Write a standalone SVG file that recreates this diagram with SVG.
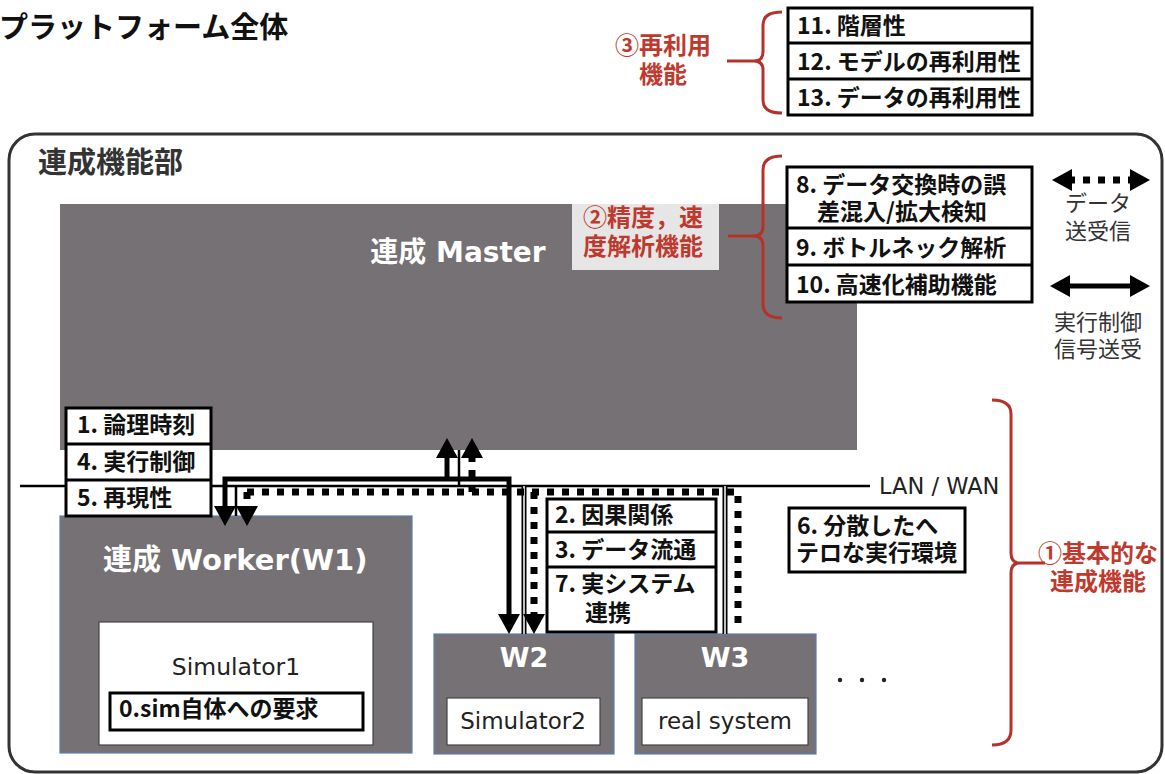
<svg xmlns="http://www.w3.org/2000/svg" width="1165" height="774" viewBox="0 0 1165 774">
<style>
.jp{font-family:"Noto Sans CJK JP","Noto Sans",sans-serif;}
.b{font-weight:bold;}
.box{fill:#fff;stroke:#000;stroke-width:3;}
.div{stroke:#000;stroke-width:3;}
.lbl{font-family:"Noto Sans CJK JP",sans-serif;font-weight:bold;font-size:23px;fill:#111;}
.red{font-family:"Noto Sans CJK JP",sans-serif;font-weight:bold;font-size:24px;fill:#bf3a2e;}
.brace{fill:none;stroke:#b5322b;stroke-width:3;}
.node{fill:#767174;stroke:#5b7db8;stroke-width:1.2;}
.wt{font-family:"DejaVu Sans","Noto Sans CJK JP",sans-serif;font-weight:bold;fill:#fff;}
.lt{font-family:"DejaVu Sans","Noto Sans CJK JP",sans-serif;fill:#222;}
.leg{font-family:"Noto Sans CJK JP",sans-serif;font-size:22px;fill:#333;}
.solid{fill:none;stroke:#000;stroke-width:5;}
.dot{fill:none;stroke:#000;stroke-width:7;stroke-dasharray:7 8;}
.lan{fill:none;stroke:#000;stroke-width:2.5;}
</style>
<defs>
<marker id="ah" markerUnits="userSpaceOnUse" viewBox="0 0 20 22" markerWidth="20" markerHeight="22" refX="6" refY="11" orient="auto-start-reverse">
<path d="M0,0 L20,11 L0,22 z" fill="#000"/>
</marker>
</defs>
<rect width="1165" height="774" fill="#fff"/>

<g id="title">
<text x="-1" y="38" class="jp b" font-size="29" fill="#111">プラットフォーム全体</text>
</g>

<g id="coupling-part">
<rect x="9" y="134" width="1153" height="638" rx="26" fill="none" stroke="#333" stroke-width="3"/>
<text x="38" y="173" class="jp b" font-size="29" fill="#333">連成機能部</text>
</g>

<g id="master">
<rect x="60" y="204" width="797" height="246" fill="#767174"/>
<text x="458" y="262" class="wt" font-size="28" text-anchor="middle">連成 Master</text>
</g>

<g id="reuse-group">
<path class="brace" d="M782 12 Q763 12 763 25 L763 52 Q763 61 754 61 Q763 61 763 70 L763 100 Q763 113 782 113 M727 61 L756 61"/>
<text x="663" y="54" class="red" text-anchor="middle">③再利用</text>
<text x="663" y="83" class="red" text-anchor="middle">機能</text>
<rect class="box" x="788" y="8" width="244" height="107"/>
<line class="div" x1="788" y1="43" x2="1032" y2="43"/>
<line class="div" x1="788" y1="79" x2="1032" y2="79"/>
<text x="797" y="34" class="lbl">11. 階層性</text>
<text x="797" y="70" class="lbl">12. モデルの再利用性</text>
<text x="797" y="106" class="lbl">13. データの再利用性</text>
</g>

<g id="accuracy-group">
<rect x="572" y="204" width="147" height="66" fill="#e6e6e6"/>
<text x="583" y="226" class="red">②精度，速</text>
<text x="583" y="255" class="red">度解析機能</text>
<path class="brace" d="M782 156 Q763 156 763 170 L763 226 Q763 236 754 236 Q763 236 763 246 L763 304 Q763 318 782 318 M728 236 L756 236"/>
<rect class="box" x="787" y="167" width="245" height="135"/>
<line class="div" x1="787" y1="228" x2="1032" y2="228"/>
<line class="div" x1="787" y1="265" x2="1032" y2="265"/>
<text x="796" y="193" class="lbl">8. データ交換時の誤</text>
<text x="817" y="220" class="lbl">差混入/拡大検知</text>
<text x="796" y="256" class="lbl">9. ボトルネック解析</text>
<text x="796" y="293" class="lbl">10. 高速化補助機能</text>
</g>

<g id="legend">
<path class="dot" d="M1068 180 L1132 180" stroke-dasharray="8 6"/>
<path d="M1066 180 L1068 180" fill="none" stroke="#000" stroke-width="5" marker-start="url(#ah)"/>
<path d="M1134 180 L1136 180" fill="none" stroke="#000" stroke-width="5" marker-end="url(#ah)"/>
<text x="1098" y="211" class="leg" text-anchor="middle">データ</text>
<text x="1098" y="239" class="leg" text-anchor="middle">送受信</text>
<path class="solid" d="M1064 286 L1136 286" marker-start="url(#ah)" marker-end="url(#ah)"/>
<text x="1098" y="330" class="leg" text-anchor="middle">実行制御</text>
<text x="1098" y="357" class="leg" text-anchor="middle">信号送受</text>
</g>

<g id="worker1">
<rect class="node" x="60" y="516" width="352" height="237"/>
<text x="103" y="570" class="wt" font-size="29">連成 Worker(W1)</text>
<rect x="99" y="622" width="274" height="123" fill="#fff" stroke="#444" stroke-width="1.2"/>
<text x="236" y="675" class="lt" font-size="23.5" text-anchor="middle">Simulator1</text>
<rect class="box" x="110" y="693" width="253" height="37"/>
<text x="119" y="717" class="lbl">0.sim自体への要求</text>
</g>

<g id="w2">
<rect class="node" x="434" y="634" width="180" height="120"/>
<text x="524" y="667" class="wt" font-size="27" text-anchor="middle">W2</text>
<rect x="447" y="698" width="153" height="47" fill="#fff" stroke="#444" stroke-width="1.2"/>
<text x="523" y="729" class="lt" font-size="23" text-anchor="middle">Simulator2</text>
</g>

<g id="w3">
<rect class="node" x="635" y="634" width="181" height="120"/>
<text x="725" y="667" class="wt" font-size="27" text-anchor="middle">W3</text>
<rect x="642" y="698" width="166" height="47" fill="#fff" stroke="#444" stroke-width="1.2"/>
<text x="725" y="729" class="lt" font-size="23" text-anchor="middle">real system</text>
</g>

<g id="more-workers">
<circle cx="840" cy="680" r="2.2" fill="#222"/>
<circle cx="862" cy="680" r="2.2" fill="#222"/>
<circle cx="884" cy="680" r="2.2" fill="#222"/>
</g>

<g id="connectors">
<path class="lan" d="M20 486 L870 486 M459 450 L459 486 M236 486 L236 516"/>
<path d="M524 486 L524 634 M725 486 L725 634" fill="none" stroke="#000" stroke-width="5"/>
<path d="M524 486 L524 634 M725 486 L725 634" fill="none" stroke="#fff" stroke-width="1.5"/>
<path class="solid" d="M447 479 L447 452" marker-end="url(#ah)"/>
<path class="solid" d="M225 512 L225 479 L509 479 L509 620" marker-start="url(#ah)" marker-end="url(#ah)"/>
<path class="dot" d="M247 492 L738 492 L738 630"/>
<path class="dot" d="M472 492 L472 458"/>
<path class="solid" d="M472 455 L472 452" marker-end="url(#ah)"/>
<path class="dot" d="M247 492 L247 508"/>
<path class="solid" d="M247 510 L247 512" marker-end="url(#ah)"/>
<path class="dot" d="M534 492 L534 615"/>
<path class="solid" d="M534 617 L534 620" marker-end="url(#ah)"/>
<text x="879" y="494" class="lt" font-size="22.5">LAN / WAN</text>
</g>

<g id="basic-group">
<rect class="box" x="66" y="408" width="145" height="108"/>
<line class="div" x1="66" y1="444" x2="211" y2="444"/>
<line class="div" x1="66" y1="480" x2="211" y2="480"/>
<text x="77" y="433" class="lbl">1. 論理時刻</text>
<text x="77" y="470" class="lbl">4. 実行制御</text>
<text x="77" y="506" class="lbl">5. 再現性</text>
<rect class="box" x="547" y="499" width="169" height="133"/>
<line class="div" x1="547" y1="532" x2="716" y2="532"/>
<line class="div" x1="547" y1="567" x2="716" y2="567"/>
<text x="555" y="523" class="lbl">2. 因果関係</text>
<text x="555" y="558" class="lbl">3. データ流通</text>
<text x="555" y="592" class="lbl">7. 実システム</text>
<text x="585" y="621" class="lbl">連携</text>
<rect class="box" x="789" y="508" width="176" height="64"/>
<text x="797" y="534" class="lbl">6. 分散したへ</text>
<text x="796" y="561" class="lbl">テロな実行環境</text>
<path class="brace" d="M992 400 Q1011 400 1011 414 L1011 553 Q1011 563 1020 563 Q1011 563 1011 573 L1011 730 Q1011 745 992 745 M1019 563 L1045 563"/>
<text x="1098" y="562" class="red" text-anchor="middle">①基本的な</text>
<text x="1098" y="590" class="red" text-anchor="middle">連成機能</text>
</g>
</svg>
